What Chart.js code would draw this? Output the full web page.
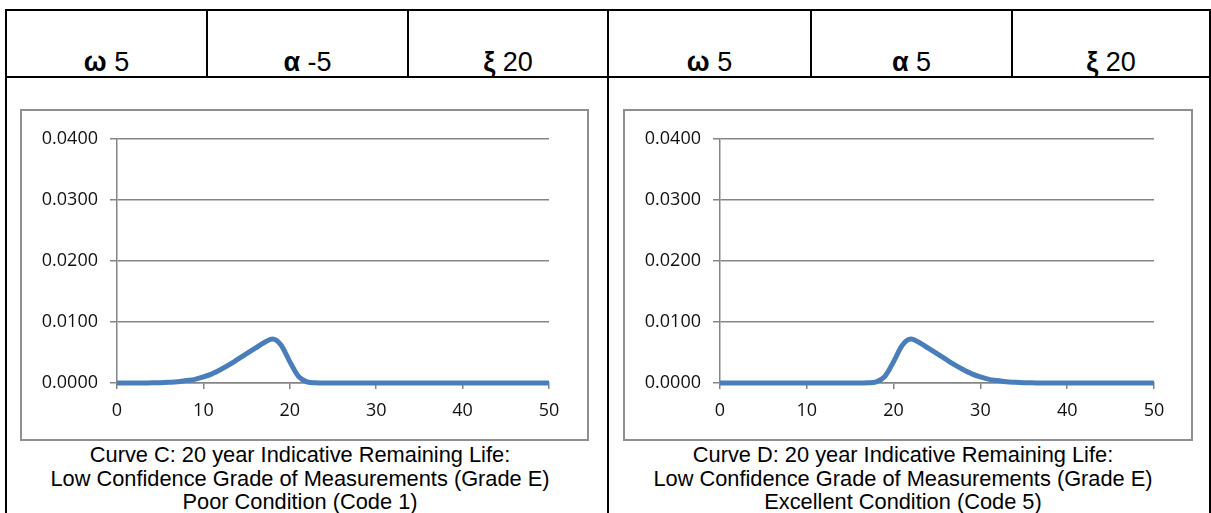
<!DOCTYPE html>
<html>
<head>
<meta charset="utf-8">
<title>Indicative Remaining Life curves</title>
<script src="https://cdn.jsdelivr.net/npm/chart.js@4.4.1/dist/chart.umd.min.js"></script>
<style>
  html, body { margin: 0; padding: 0; background: #fff; }
  body { width: 1211px; height: 513px; position: relative; overflow: hidden;
         font-family: "Liberation Sans", Arial, sans-serif; color: #000; }
  .rule { position: absolute; background: #000; }
  .hdr { position: absolute; top: 44px; height: 36px; line-height: 36px;
         text-align: center; font-size: 27px; white-space: nowrap; }
  .hdr b { font-weight: bold; }
  .box { position: absolute; top: 109px; height: 332px; box-sizing: border-box;
         border: 2px solid #8f8f8f; background: #fff; }
  canvas { position: absolute; top: 109px; }
  .cap { position: absolute; top: 443px; width: 600px; text-align: center;
         font-size: 21.8px; line-height: 23.5px; white-space: nowrap; }
</style>
</head>
<body>

<!-- table rules -->
<div class="rule" style="left:5px;top:9px;width:1206px;height:2px"></div>
<div class="rule" style="left:5px;top:76px;width:1206px;height:2px"></div>
<div class="rule" style="left:5px;top:9px;width:2px;height:504px"></div>
<div class="rule" style="left:607px;top:9px;width:2px;height:504px"></div>
<div class="rule" style="left:1209px;top:9px;width:2px;height:504px"></div>
<div class="rule" style="left:206px;top:9px;width:2px;height:68px"></div>
<div class="rule" style="left:407px;top:9px;width:2px;height:68px"></div>
<div class="rule" style="left:810px;top:9px;width:2px;height:68px"></div>
<div class="rule" style="left:1011px;top:9px;width:2px;height:68px"></div>

<div id="hdrC"></div>
<div id="hdrD"></div>

<div class="box" style="left:20px;width:569px"></div>
<div class="box" style="left:623px;width:570px"></div>
<canvas id="chartC" width="569" height="332" style="left:20px"></canvas>
<canvas id="chartD" width="570" height="332" style="left:623px"></canvas>

<div class="cap" id="capC" style="left:0px"></div>
<div class="cap" id="capD" style="left:603px"></div>

<script>
// Remaining life in years (x) and probability density for each curve
const years = [
  0, 1, 2, 3, 4, 5, 6, 7, 8, 9,
  10, 11, 12, 13, 14, 15, 16, 17, 18, 19,
  20, 21, 22, 23, 24, 25, 26, 27, 28, 29,
  30, 31, 32, 33, 34, 35, 36, 37, 38, 39,
  40, 41, 42, 43, 44, 45, 46, 47, 48, 49, 50
];

// Curve C: poor condition (skewed to the left)
const curveC = [
  0, 0, 0, 0, 0.00003, 0.00006, 0.00012, 0.0002, 0.0004, 0.0006,
  0.0010, 0.0015, 0.0022, 0.0030, 0.0039, 0.0048, 0.0057, 0.0066, 0.0072, 0.0062,
  0.0035, 0.0011, 0.0002, 0.00003, 0, 0, 0, 0, 0, 0,
  0, 0, 0, 0, 0, 0, 0, 0, 0, 0,
  0, 0, 0, 0, 0, 0, 0, 0, 0, 0, 0
];

// Curve D: excellent condition (skewed to the right)
const curveD = [
  0, 0, 0, 0, 0, 0, 0, 0, 0, 0,
  0, 0, 0, 0, 0, 0, 0, 0.00003, 0.0002, 0.0011,
  0.0035, 0.0062, 0.0072, 0.0066, 0.0057, 0.0048, 0.0039, 0.0030, 0.0022, 0.0015,
  0.0010, 0.0006, 0.0004, 0.0002, 0.00012, 0.00006, 0.00003, 0, 0, 0,
  0, 0, 0, 0, 0, 0, 0, 0, 0, 0, 0
];

// Axis ticks and their labels
const xTicks = [0, 10, 20, 30, 40, 50];
const xTickLabels = ['0', '10', '20', '30', '40', '50'];
const yTicks = [0, 0.01, 0.02, 0.03, 0.04];
const yTickLabels = ['0.0000', '0.0100', '0.0200', '0.0300', '0.0400'];

// Distribution parameters shown in the header: omega, alpha, xi
const paramNames = ['ω', 'α', 'ξ'];
const paramsC = [5, -5, 20];
const paramsD = [5, 5, 20];

// Captions under each chart
const captionC = [
  'Curve C: 20 year Indicative Remaining Life:',
  'Low Confidence Grade of Measurements (Grade E)',
  'Poor Condition (Code 1)'
];
const captionD = [
  'Curve D: 20 year Indicative Remaining Life:',
  'Low Confidence Grade of Measurements (Grade E)',
  'Excellent Condition (Code 5)'
];

function buildHeader(el, params, cells) {
  params.forEach((v, i) => {
    const d = document.createElement('div');
    d.className = 'hdr';
    d.style.left = cells[i][0] + 'px';
    d.style.width = (cells[i][1] - cells[i][0]) + 'px';
    const b = document.createElement('b');
    b.textContent = paramNames[i];
    d.appendChild(b);
    d.appendChild(document.createTextNode(' ' + v));
    el.appendChild(d);
  });
}
buildHeader(document.getElementById('hdrC'), paramsC, [[7, 206], [208, 407], [409, 607]]);
buildHeader(document.getElementById('hdrD'), paramsD, [[609, 810], [812, 1011], [1013, 1209]]);

function buildCaption(el, lines) {
  lines.forEach(t => {
    const d = document.createElement('div');
    d.textContent = t;
    el.appendChild(d);
  });
}
buildCaption(document.getElementById('capC'), captionC);
buildCaption(document.getElementById('capD'), captionD);

const tickFont = { family: '"Open Sans", "Noto Sans", sans-serif', size: 18 };
const axisGrey = '#858585';

function makeChart(id, values, rightPad) {
  const points = years.map((x, i) => ({ x: x, y: values[i] }));
  return new Chart(document.getElementById(id), {
    type: 'line',
    data: {
      datasets: [{
        data: points,
        borderColor: '#4a7ebb',
        borderWidth: 5,
        pointRadius: 0,
        fill: false,
        cubicInterpolationMode: 'monotone',
        clip: false
      }]
    },
    options: {
      responsive: false,
      animation: false,
      events: [],
      layout: { padding: { top: 30, right: rightPad, bottom: 0, left: 0 } },
      plugins: { legend: { display: false }, tooltip: { enabled: false } },
      scales: {
        x: {
          type: 'linear',
          min: 0,
          max: 50,
          afterBuildTicks: s => { s.ticks = xTicks.map(v => ({ value: v })); },
          afterFit: s => { s.height = 58; },
          grid: { drawOnChartArea: false, drawTicks: true, tickLength: 6, color: axisGrey, lineWidth: 1.5 },
          border: { display: true, color: axisGrey, width: 1.5 },
          ticks: {
            font: tickFont, color: '#111', padding: 11, maxRotation: 0,
            callback: (v, i) => xTickLabels[i]
          }
        },
        y: {
          min: 0,
          max: 0.04,
          afterBuildTicks: s => { s.ticks = yTicks.map(v => ({ value: v })); },
          afterFit: s => { s.width = 97; },
          grid: { drawTicks: true, tickLength: 7, color: axisGrey, lineWidth: 1.5 },
          border: { display: true, color: axisGrey, width: 1.5 },
          ticks: {
            font: tickFont, color: '#111', padding: 12,
            callback: (v, i) => yTickLabels[i]
          }
        }
      }
    }
  });
}

makeChart('chartC', curveC, 40);
makeChart('chartD', curveD, 39);
</script>
</body>
</html>
